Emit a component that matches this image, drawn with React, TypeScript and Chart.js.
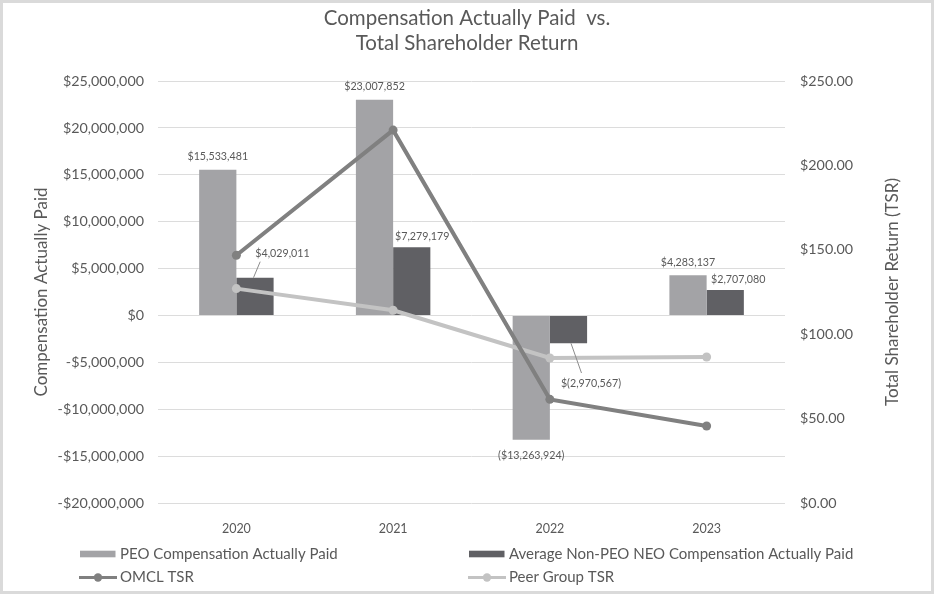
import React, { useEffect, useRef } from 'react';
import { Chart, registerables } from 'chart.js';

Chart.register(...registerables);

// ---------- data ----------
const years = ['2020', '2021', '2022', '2023'];
const peoCap = [15533481, 23007852, -13263924, 4283137];
const neoCap = [4029011, 7279179, -2970567, 2707080];
const omclTsr = [146.8, 220.9, 61.4, 45.6];
const peerTsr = [127.0, 114.2, 85.9, 86.5];
const peoLabels = ['$15,533,481', '$23,007,852', '($13,263,924)', '$4,283,137'];
const neoLabels = ['$4,029,011', '$7,279,179', '$(2,970,567)', '$2,707,080'];
const seriesNames = [
  'PEO Compensation Actually Paid',
  'Average Non-PEO NEO Compensation Actually Paid',
  'OMCL TSR',
  'Peer Group TSR',
];
const titleLines = ['Compensation Actually Paid  vs.', 'Total Shareholder Return'];
const leftAxisTitle = 'Compensation Actually Paid';
const rightAxisTitle = 'Total Shareholder Return (TSR)';
const leftRange = { min: -20000000, max: 25000000, step: 5000000 };
const rightRange = { min: 0, max: 250, step: 50 };

// ---------- styles ----------
const FONT = 'Lato';
const TEXT = '#595959';
const C_PEO = '#a3a3a6';
const C_NEO = '#606064';
const C_OMCL = '#808080';
const C_PEER = '#c3c3c3';
const GRID = '#dcdcdc';

const fmtMoney = (v: number) => {
  const s = '$' + Math.abs(v).toLocaleString('en-US');
  return v < 0 ? '-' + s : s;
};

// label offsets relative to bar end (dx, dy) and optional leader line
const neoLabelPlacement = [
  { dx: 27.5, dy: -24.5, leader: [-1.5, 0, 5.2, -16] },
  { dx: 10.5, dy: -10.5, leader: null },
  { dx: 22.5, dy: 40, leader: [2.5, 0, 13, 29.7] },
  { dx: 13, dy: -10.7, leader: null },
];

const extrasPlugin = {
  id: 'extras',
  afterDatasetsDraw(chart: any) {
    const ctx = chart.ctx;
    ctx.save();
    ctx.font = `10.7px ${FONT}`;
    ctx.fillStyle = TEXT;
    ctx.textAlign = 'center';
    ctx.textBaseline = 'middle';
    const m0 = chart.getDatasetMeta(0);
    m0.data.forEach((bar: any, i: number) => {
      const y = peoCap[i] >= 0 ? bar.y - 13 : bar.y + 16;
      ctx.fillText(peoLabels[i], bar.x, y);
    });
    const m1 = chart.getDatasetMeta(1);
    m1.data.forEach((bar: any, i: number) => {
      const p = neoLabelPlacement[i];
      if (p.leader) {
        ctx.strokeStyle = '#8c8c8c';
        ctx.lineWidth = 1;
        ctx.beginPath();
        ctx.moveTo(bar.x + p.leader[0], bar.y + p.leader[1]);
        ctx.lineTo(bar.x + p.leader[2], bar.y + p.leader[3]);
        ctx.stroke();
      }
      ctx.fillText(neoLabels[i], bar.x + p.dx, bar.y + p.dy);
    });
    ctx.restore();
  },
  afterDraw(chart: any) {
    const ctx = chart.ctx;
    const area = chart.chartArea;
    ctx.save();
    // right axis title (reads bottom to top)
    ctx.font = `17px ${FONT}`;
    ctx.fillStyle = TEXT;
    ctx.textAlign = 'center';
    ctx.textBaseline = 'middle';
    ctx.translate(890, (area.top + area.bottom) / 2);
    ctx.rotate(-Math.PI / 2);
    ctx.fillText(rightAxisTitle, 0, 0);
    ctx.restore();

    // legend (2 x 2)
    ctx.save();
    ctx.font = `15px ${FONT}`;
    ctx.fillStyle = TEXT;
    ctx.textAlign = 'left';
    ctx.textBaseline = 'middle';
    const cols = [76, 465];
    const rows = [551, 574.5];
    const ds = chart.data.datasets;
    ds.forEach((d: any, i: number) => {
      const x = cols[i % 2];
      const y = rows[Math.floor(i / 2)];
      if (d.type === 'line') {
        ctx.strokeStyle = d.borderColor;
        ctx.lineWidth = 3;
        ctx.beginPath();
        ctx.moveTo(x, y);
        ctx.lineTo(x + 38, y);
        ctx.stroke();
        ctx.fillStyle = d.borderColor;
        ctx.beginPath();
        ctx.arc(x + 19, y, 4.2, 0, Math.PI * 2);
        ctx.fill();
      } else {
        ctx.fillStyle = d.backgroundColor;
        ctx.fillRect(x + 1, y - 3.3, 35.5, 6.6);
      }
      ctx.fillStyle = TEXT;
      ctx.fillText(d.label, x + 41, y);
    });
    ctx.restore();
  },
};

export default function App() {
  const ref = useRef<HTMLCanvasElement | null>(null);

  useEffect(() => {
    document.body.style.margin = '0';
    if (!ref.current) return;
    const chart = new Chart(ref.current, {
      type: 'bar',
      data: {
        labels: years,
        datasets: [
          {
            type: 'bar',
            label: seriesNames[0],
            data: peoCap,
            backgroundColor: C_PEO,
            yAxisID: 'y',
            order: 3,
            categoryPercentage: 0.475,
            barPercentage: 1,
          },
          {
            type: 'bar',
            label: seriesNames[1],
            data: neoCap,
            backgroundColor: C_NEO,
            yAxisID: 'y',
            order: 3,
            categoryPercentage: 0.475,
            barPercentage: 1,
          },
          {
            type: 'line',
            label: seriesNames[2],
            data: omclTsr,
            borderColor: C_OMCL,
            backgroundColor: C_OMCL,
            borderWidth: 4,
            pointRadius: 4.5,
            pointBorderWidth: 0,
            pointBackgroundColor: C_OMCL,
            yAxisID: 'y1',
            order: 1,
            tension: 0,
          },
          {
            type: 'line',
            label: seriesNames[3],
            data: peerTsr,
            borderColor: C_PEER,
            backgroundColor: C_PEER,
            borderWidth: 4,
            pointRadius: 4.5,
            pointBorderWidth: 0,
            pointBackgroundColor: C_PEER,
            yAxisID: 'y1',
            order: 2,
            tension: 0,
          },
        ] as any,
      },
      options: {
        animation: false,
        responsive: true,
        maintainAspectRatio: false,
        layout: { padding: 0 },
        plugins: {
          legend: { display: false },
          tooltip: { enabled: false },
          title: {
            display: true,
            text: titleLines,
            color: TEXT,
            font: { family: FONT, size: 20.5, weight: 'normal', lineHeight: 25 / 20.5 },
            padding: { top: 2.5, bottom: 25.5 },
          },
        },
        scales: {
          x: {
            grid: { display: false, drawTicks: false },
            border: { display: false },
            ticks: { color: TEXT, font: { family: FONT, size: 12.5 }, padding: 18 },
            afterFit: (s: any) => { s.height = 88; },
          },
          y: {
            position: 'left',
            min: leftRange.min,
            max: leftRange.max,
            grid: { color: GRID, lineWidth: 1, drawTicks: false },
            border: { display: false },
            ticks: {
              stepSize: leftRange.step,
              color: TEXT,
              font: { family: FONT, size: 14.3 },
              padding: 14,
              callback: (v: any) => fmtMoney(Number(v)),
            },
            title: {
              display: true,
              text: leftAxisTitle,
              color: TEXT,
              font: { family: FONT, size: 17 },
              padding: { top: 28.8, bottom: 0 },
            },
            afterFit: (s: any) => { s.width = 155; },
          },
          y1: {
            position: 'right',
            min: rightRange.min,
            max: rightRange.max,
            grid: { display: false, drawTicks: false },
            border: { display: false },
            ticks: {
              stepSize: rightRange.step,
              color: TEXT,
              font: { family: FONT, size: 14.3 },
              padding: 15,
              callback: (v: any) => '$' + Number(v).toFixed(2),
            },
            afterFit: (s: any) => { s.width = 146; },
          },
        },
      } as any,
      plugins: [extrasPlugin],
    });
    return () => chart.destroy();
  }, []);

  return (
    <div
      style={{
        width: 934,
        height: 594,
        boxSizing: 'border-box',
        border: '3px solid #dadada',
        background: '#ffffff',
      }}
    >
      <div style={{ position: 'relative', width: 928, height: 588 }}>
        <canvas ref={ref} />
      </div>
    </div>
  );
}
